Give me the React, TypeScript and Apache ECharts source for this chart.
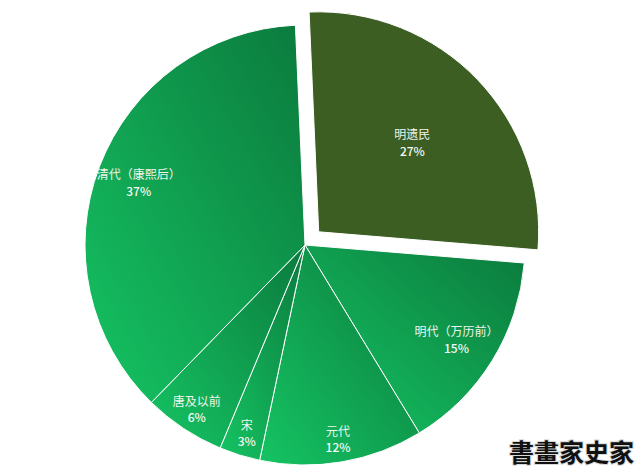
import React, { useEffect, useRef } from "react";
import * as echarts from "echarts";

const categories = ["明遗民", "明代（万历前）", "元代", "宋", "唐及以前", "清代（康熙后）"];
const values = [27, 15, 12, 3, 6, 37];
const highlighted = "明遗民";
const watermark = "書畫家史家";

const LIGHT = "#15c463";
const DARK = "#0b7a3d";
const OLIVE = "#3c5e22";

export default function App() {
  const ref = useRef<HTMLDivElement>(null);
  useEffect(() => {
    document.body.style.margin = "0";
    const chart = echarts.init(ref.current!, null, { renderer: "svg" });
    const center = [305, 245];
    const R = 220;
    const startAngle = 92.5;
    const offset = 19;

    const greenGrad = new echarts.graphic.LinearGradient(0, 1, 1, 0, [
      { offset: 0, color: LIGHT },
      { offset: 1, color: DARK },
    ]);

    const mainData = categories.map((name, i) => ({
      name,
      value: values[i],
      selected: name === highlighted,
      itemStyle: {
        color: name === highlighted ? OLIVE : greenGrad,
      },
    }));

    const labelGroups = [
      { names: [highlighted], inner: 34 },
      { names: ["明代（万历前）", "清代（康熙后）"], inner: 130 },
      { names: ["元代", "宋", "唐及以前"], inner: 166 },
    ];

    const overlays = labelGroups.map((g) => ({
      type: "pie",
      center,
      radius: [g.inner, R],
      startAngle,
      clockwise: true,
      silent: true,
      selectedMode: "single",
      selectedOffset: offset,
      avoidLabelOverlap: false,
      labelLine: { show: false },
      z: 3,
      data: categories.map((name, i) => ({
        name,
        value: values[i],
        selected: name === highlighted,
        itemStyle: { color: "rgba(0,0,0,0)", borderWidth: 0 },
        label: { show: g.names.includes(name) },
      })),
      label: {
        position: "inside",
        formatter: "{n|{b}}\n{p|{d}%}",
        rich: {
          n: {
            color: "#eef5ee",
            fontSize: 12,
            lineHeight: 17,
            fontFamily: "Noto Sans CJK SC, sans-serif",
          },
          p: {
            color: "#f6faf6",
            fontSize: 12,
            lineHeight: 16,
            fontWeight: 500,
            fontFamily: "Noto Sans CJK SC, sans-serif",
          },
        },
      },
    }));

    chart.setOption({
      animation: false,
      backgroundColor: "#ffffff",
      series: [
        {
          type: "pie",
          center,
          radius: [0, R],
          startAngle,
          clockwise: true,
          selectedMode: "single",
          selectedOffset: offset,
          avoidLabelOverlap: false,
          label: { show: false },
          labelLine: { show: false },
          itemStyle: { borderColor: "#ffffff", borderWidth: 1 },
          emphasis: { disabled: true },
          data: mainData,
          z: 2,
        },
        ...overlays,
      ],
      graphic: [
        {
          type: "text",
          right: 5,
          bottom: 8,
          z: 10,
          style: {
            text: watermark,
            fill: "#111111",
            stroke: "#d8d8d8",
            lineWidth: 2,
            fontSize: 25,
            fontWeight: "bold",
            fontFamily: "Noto Sans CJK TC, sans-serif",
          },
        },
      ],
    });
    return () => chart.dispose();
  }, []);
  return <div ref={ref} style={{ width: 640, height: 472 }} />;
}
